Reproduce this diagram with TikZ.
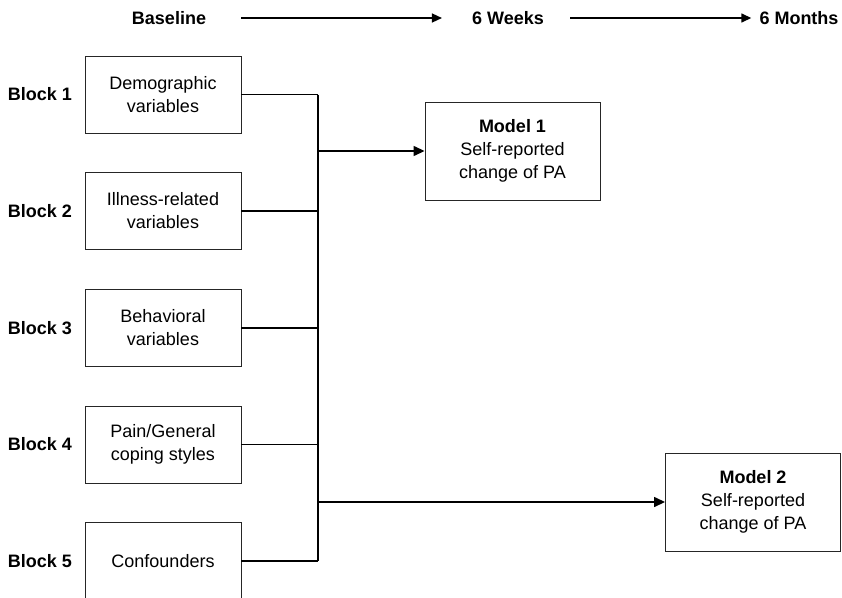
\documentclass[tikz,border=0pt]{standalone}
\usepackage{fontspec}
\setmainfont{Liberation Sans}
\usetikzlibrary{arrows.meta, positioning}
\tikzset{>=stealth}
\tikzset{
  blockbox/.style={draw=black!85, line width=0.9pt, minimum width=156pt, minimum height=77pt, align=center, inner sep=0pt},
  modelbox/.style={draw=black!85, line width=0.9pt, minimum width=175pt, minimum height=98pt, align=center, inner sep=0pt},
  hdr/.style={font=\fontsize{18}{22}\selectfont\bfseries, inner sep=0pt},
  link/.style={line width=1.4pt},
  tip/.style={-{Triangle[length=11pt,width=10pt]}},
}

\begin{document}
\begin{tikzpicture}[x=1pt, y=-1pt, font=\fontsize{18}{23}\selectfont]
	\useasboundingbox (0,0) rectangle (842,597);
	\clip (0,0) rectangle (842,597);
	% time line
	\node[hdr] (base) at (169,18) {Baseline};
	\node[hdr] (wk) at (508,18) {6 Weeks};
	\node[hdr] (mo) at (799,18) {6 Months};
	\draw [link, -{Triangle[length=10pt,width=9pt]}] ([xshift=35pt]base.east) -- ([xshift=-30pt]wk.west);
	\draw [link, -{Triangle[length=10pt,width=9pt]}] ([xshift=26pt]wk.east) -- ([xshift=-8pt]mo.west);
	% predictor blocks
	\foreach \i/\y/\txt in {1/94.5/{Demographic\\variables}, 2/211/{Illness-related\\variables}, 3/328/{Behavioral\\variables}, 4/444.5/{Pain/General\\coping styles}, 5/561/{Confounders}}{
		\node[hdr] (l\i) at (40,\y) {Block \i};
		\node[blockbox] (b\i) at (163,\y) {\txt};
	}
	% bus
	\coordinate (bustop) at (318,94.5);
	\coordinate (busbot) at (318,561);
	\draw [link] (bustop) -- (busbot);
	\foreach \i in {1,...,5}
		\draw [link] (b\i.east) -- (b\i.east -| bustop);
	% outcomes
	\node[modelbox] (m1) at (512.5,151) {{\bfseries Model 1}\\Self-reported\\change of PA};
	\node[modelbox] (m2) at (753,502) {{\bfseries Model 2}\\Self-reported\\change of PA};
	\draw [link, tip] (m1.west -| bustop) -- (m1.west);
	\draw [link, tip] (m2.west -| bustop) -- (m2.west);
\end{tikzpicture}
\end{document}
